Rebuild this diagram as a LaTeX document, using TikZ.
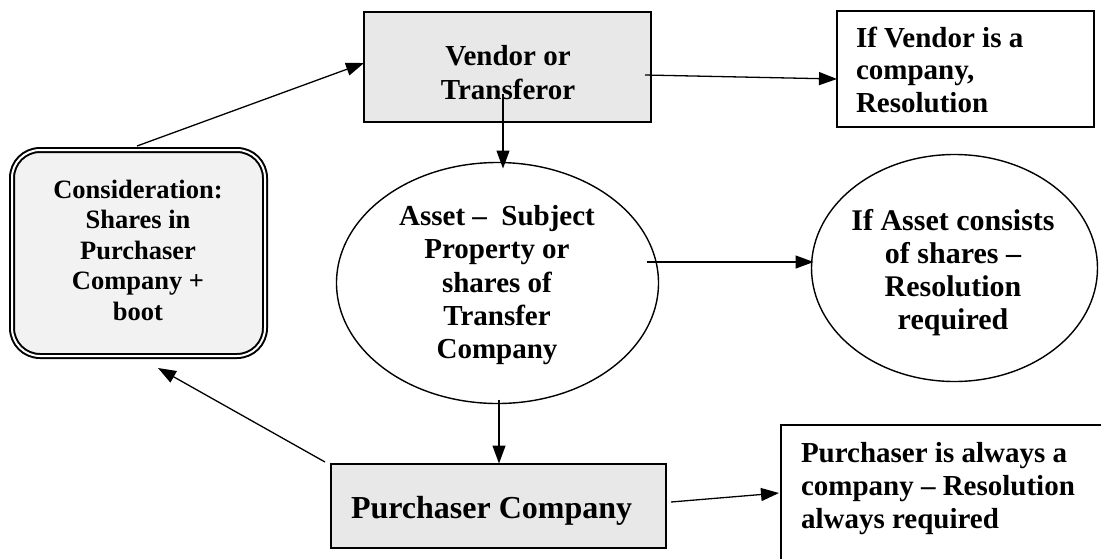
\documentclass[tikz,border=0pt]{standalone}
\usepackage{fontspec}
\setmainfont{Liberation Serif}
\usetikzlibrary{shapes.geometric,arrows.meta,calc}
\definecolor{boxgray}{HTML}{E8E8E8}
\definecolor{consgray}{HTML}{F2F2F2}
\begin{document}
\begin{tikzpicture}[x=1pt,y=-1pt,
  rectbox/.style={draw=black,line width=1.8pt,rectangle,inner sep=0pt,outer sep=0pt},
  ovalbox/.style={draw=black,line width=1.4pt,ellipse,inner sep=0pt,outer sep=0pt},
  dblbox/.style={draw=black,line width=2pt,double=white,double distance=2pt,fill=consgray,rounded corners=28pt,rectangle,inner sep=0pt,outer sep=0pt},
  conn/.style={line width=1.3pt,-{Triangle[length=18pt,width=13pt]}},
  lbl/.style={inner sep=0pt,outer sep=0pt}]
\useasboundingbox (0,0) rectangle (1101,558);
\clip (0,0) rectangle (1101,558);
% shapes
\node[rectbox, fill=boxgray, minimum width=287pt, minimum height=110pt] (vendor) at (507.5,67) {};
\node[rectbox, fill=white, minimum width=257pt, minimum height=116pt] (ifvendor) at (965.5,69) {};
\node[rectbox, fill=boxgray, minimum width=335pt, minimum height=84pt] (purch) at (498.5,506) {};
\node[rectbox, fill=white, minimum width=400pt, minimum height=200pt, anchor=north west] (pbox) at (781,425) {};
\node[ovalbox, fill=white, minimum width=322pt, minimum height=241pt] (asset) at (497.5,283) {};
\node[ovalbox, fill=white, minimum width=286pt, minimum height=227pt] (ifasset) at (954.5,268) {};
\node[dblbox, minimum width=253pt, minimum height=206pt] (cons) at (138.5,253) {};
% texts
\node[lbl, anchor=north, align=center, font={\fontsize{29}{34}\selectfont\bfseries}] (vendortxt) at (508,45.3) {Vendor or\\Transferor};
\node[lbl, anchor=north, align=center, font={\fontsize{26.5}{30.5}\selectfont\bfseries}] (constxt) at (138,180) {Consideration:\\Shares in\\Purchaser\\Company +\\boot};
\node[lbl, anchor=north, align=center, font={\fontsize{29}{33.3}\selectfont\bfseries}] (assettxt) at (497,205.3) {Asset – \ Subject\\Property or\\shares of\\Transfer\\Company};
\node[lbl, anchor=north, align=center, font={\fontsize{30}{33}\selectfont\bfseries}] (ifassettxt) at (953,209.3) {If Asset consists\\of shares –\\Resolution\\required};
\node[lbl, anchor=north west, align=left, font={\fontsize{29}{32.5}\selectfont\bfseries}] (ifvendortxt) at (856,27) {If Vendor is a\\company,\\Resolution};
\node[lbl, anchor=north west, align=left, font={\fontsize{29}{33}\selectfont\bfseries}] (pboxtxt) at (801,442.3) {Purchaser is always a\\company – Resolution\\always required};
\node[lbl, anchor=base west, font={\fontsize{32}{36}\selectfont\bfseries}] (purchtxt) at (351,518) {Purchaser Company};
% connectors
\draw[conn] ($(cons.north)+(-1.5,-4)$) -- ($(vendor.west)+(0,-4)$);
\draw[conn] ($(vendor.east)+(-6,8)$) -- ($(ifvendor.west)+(0,10)$);
\draw[conn] ($(vendor.center)+(-4.5,27)$) -- ($(asset.north)+(5.5,6)$);
\draw[conn] ($(asset.east)+(-12,-21)$) -- ($(ifasset.west)+(2,-6)$);
\draw[conn] ($(asset.south)+(1.5,-4)$) -- ($(purch.north)+(0.5,-0.5)$);
\draw[conn] ($(purch.east)+(5,-4)$) -- ($(pbox.north west)+(-2,68)$);
\draw[conn] ($(purch.north west)+(-6,-2)$) -- ($(cons.south)+(19.5,12)$);
\end{tikzpicture}
\end{document}
